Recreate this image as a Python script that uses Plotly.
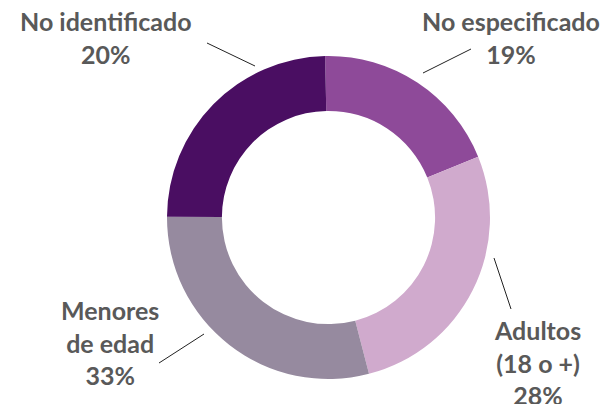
import plotly.graph_objects as go

# Datos (orden en sentido horario desde las 12)
categorias = ["No especificado", "Adultos<br>(18 o +)", "Menores<br>de edad", "No identi\u200cficado"]
porcentajes = [19, 28, 33, 20]          # lo que dicen las etiquetas
sectores = [19.2, 27.1, 29.1, 24.6]     # tamaño visible de cada sector
colores = ["#8E4A99", "#D0AACD", "#968A9F", "#4A0E62"]

W, H = 616, 404
OFF = 8  # margen del body del navegador

def px(x):
    return (x - OFF) / W

def py(y):
    return 1 - (y - OFF) / H

fig = go.Figure(go.Pie(
    labels=categorias,
    values=sectores,
    sort=False,
    direction="clockwise",
    rotation=-1.2,
    hole=0.66,
    marker=dict(colors=colores, line=dict(width=0)),
    textinfo="none",
    hoverinfo="label+percent",
    domain=dict(x=[px(167), px(490)], y=[py(379), py(56)]),
    showlegend=False,
))

# posiciones de etiquetas y lineas guia (en pixeles)
pos_texto = [(511, 38), (537, 362), (110, 342), (106, 38)]
lineas = [((423, 73), (471, 49)), ((494, 258), (511, 309)),
          ((204, 334), (159, 363)), ((255, 66), (207, 43))]

for cat, pct, (tx, ty), ((x0, y0), (x1, y1)) in zip(categorias, porcentajes, pos_texto, lineas):
    fig.add_annotation(
        x=px(tx), y=py(ty), xref="paper", yref="paper",
        text=f"<b>{cat}<br>{pct}%</b>", showarrow=False,
        xanchor="center", yanchor="middle", align="center",
        font=dict(family="Lato", size=25, color="#595959"),
    )
    fig.add_shape(type="line", xref="paper", yref="paper",
                  x0=px(x0), y0=py(y0), x1=px(x1), y1=py(y1),
                  line=dict(color="#222222", width=1))

fig.update_layout(
    width=W, height=H,
    margin=dict(l=0, r=0, t=0, b=0),
    paper_bgcolor="white",
    plot_bgcolor="white",
)

fig.write_html("out.html")
